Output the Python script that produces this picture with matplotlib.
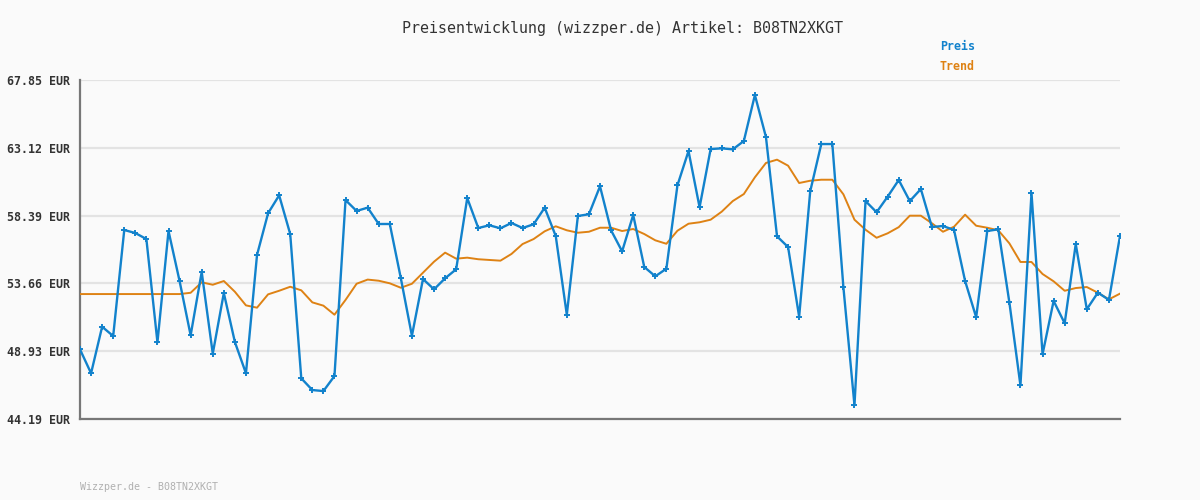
import matplotlib
matplotlib.use("Agg")
import matplotlib.pyplot as plt
import numpy as np

preis = [49.05, 47.38, 50.63, 49.98, 57.38, 57.17, 56.75, 49.54, 57.31, 53.82,
         50.03, 54.45, 48.75, 52.98, 49.56, 47.38, 55.64, 58.55, 59.80, 57.10,
         47.03, 46.21, 46.14, 47.19, 59.47, 58.71, 58.94, 57.80, 57.80, 54.01,
         50.00, 53.96, 53.24, 54.01, 54.64, 59.61, 57.52, 57.71, 57.50, 57.87,
         57.52, 57.78, 58.94, 56.96, 51.47, 58.36, 58.48, 60.43, 57.36, 55.89,
         58.43, 54.80, 54.15, 54.68, 60.50, 62.89, 58.97, 63.03, 63.08, 63.01,
         63.59, 66.80, 63.87, 56.94, 56.19, 51.33, 60.08, 63.38, 63.38, 53.38,
         45.15, 59.40, 58.62, 59.71, 60.87, 59.40, 60.24, 57.59, 57.66, 57.38,
         53.82, 51.29, 57.31, 57.43, 52.33, 46.54, 59.96, 48.71, 52.43, 50.87,
         56.40, 51.85, 53.01, 52.50, 56.96]

trend = [52.91, 52.91, 52.91, 52.91, 52.91, 52.91, 52.91, 52.91, 52.91, 52.91,
         53.00, 53.73, 53.56, 53.82, 53.07, 52.12, 51.96, 52.89, 53.14, 53.42,
         53.17, 52.33, 52.10, 51.47, 52.50, 53.63, 53.92, 53.84, 53.66, 53.35,
         53.63, 54.40, 55.17, 55.80, 55.38, 55.45, 55.34, 55.29, 55.24, 55.71,
         56.40, 56.75, 57.29, 57.64, 57.36, 57.19, 57.26, 57.54, 57.54, 57.31,
         57.45, 57.10, 56.66, 56.42, 57.33, 57.82, 57.92, 58.10, 58.66, 59.40,
         59.89, 61.06, 62.06, 62.29, 61.87, 60.66, 60.82, 60.89, 60.89, 59.87,
         58.10, 57.40, 56.84, 57.15, 57.58, 58.38, 58.38, 57.85, 57.26, 57.61,
         58.45, 57.68, 57.54, 57.36, 56.45, 55.15, 55.15, 54.31, 53.80, 53.14,
         53.33, 53.40, 53.00, 52.54, 52.94]

ytick_vals = [44.19, 48.93, 53.66, 58.39, 63.12, 67.85]
ytick_labels = ["44.19 EUR", "48.93 EUR", "53.66 EUR", "58.39 EUR", "63.12 EUR", "67.85 EUR"]

title = "Preisentwicklung (wizzper.de) Artikel: B08TN2XKGT"
footer = "Wizzper.de - B08TN2XKGT"

BG = "#fafafa"
BLUE = "#1282cc"
ORANGE = "#de8214"
MONO = ["DejaVu Sans Mono"]

fig = plt.figure(figsize=(12, 5), dpi=100, facecolor=BG)
ax = fig.add_axes([80/1200, 1-419/500, 1040/1200, 339/500], facecolor=BG)

x = np.arange(len(preis))
ax.plot(x, trend, color=ORANGE, lw=1.4, zorder=3)
ax.plot(x, preis, color=BLUE, lw=1.7, marker="+", ms=4, mew=1.4, zorder=4)

ax.set_xlim(0, len(preis) - 1)
ax.set_ylim(ytick_vals[0], ytick_vals[-1])
ax.set_yticks(ytick_vals)
ax.set_yticklabels(ytick_labels, family=MONO, fontsize=8.4, fontweight="bold", color="#333333")
ax.set_xticks([])
ax.tick_params(axis="y", length=0, pad=7)
ax.grid(axis="y", color="#e3e3e3", lw=1.6, zorder=0)
ax.set_axisbelow(True)

for s in ["top", "right"]:
    ax.spines[s].set_visible(False)
for s in ["left", "bottom"]:
    ax.spines[s].set_color("#777777")
    ax.spines[s].set_linewidth(1.6)

fig.text(623/1200, 1-28/500, title, family=MONO, fontsize=10.8, color="#333333",
         ha="center", va="center")
fig.text(940/1200, 1-47/500, "Preis", family=MONO, fontsize=8.4, fontweight="bold",
         color=BLUE, ha="left", va="center")
fig.text(940/1200, 1-67/500, "Trend", family=MONO, fontsize=8.4, fontweight="bold",
         color=ORANGE, ha="left", va="center")
fig.text(80/1200, 1-487/500, footer, family=MONO, fontsize=7.2, color="#b0b0b0",
         ha="left", va="center")

fig.savefig("out.png", dpi=100, facecolor=BG)
